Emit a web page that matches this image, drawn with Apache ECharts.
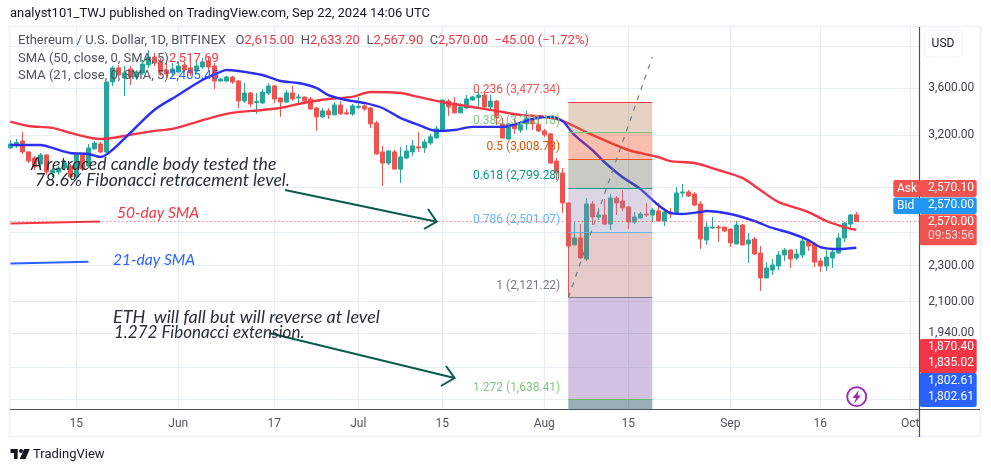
<!DOCTYPE html>
<html><head><meta charset="utf-8">
<style>html,body{margin:0;padding:0;background:#fff}#c{width:991px;height:472px}</style>
<script src="https://cdn.jsdelivr.net/npm/echarts@6/dist/echarts.min.js"></script>
</head><body><div id="c"></div>
<script>
// Daily candles; day number 0 is 4 May 2024, day number 141 is 22 Sep 2024.
const opens=[3096,3112,3151,3065,3018,2973,3041,2906,2913,2943,2958,2877,3041,2958,3088,3127,3065,3658,3790,3695,3780,3704,3742,3819,3896,3848,3770,3742,3751,3819,3790,3761,3799,3857,3809,3667,3667,3704,3667,3486,3557,3473,3469,3557,3621,3513,3477,3557,3513,3522,3504,3425,3349,3400,3366,3451,3383,3374,3430,3443,3425,3298,3065,2980,3065,2935,3018,3065,3104,3096,3135,3175,3240,3486,3460,3383,3425,3495,3518,3539,3434,3486,3290,3167,3290,3240,3290,3332,3282,3232,3208,2995,2906,2694,2423,2466,2338,2687,2600,2613,2554,2728,2707,2667,2567,2593,2620,2613,2640,2574,2633,2620,2763,2770,2756,2687,2453,2529,2535,2535,2522,2429,2548,2429,2459,2374,2229,2274,2297,2362,2392,2344,2362,2447,2429,2326,2297,2344,2374,2466,2554,2615];
const closes=[3127,3139,3065,2995,2950,3041,2913,2928,2943,2980,2877,3041,2935,3096,3135,3065,3658,3790,3723,3742,3704,3751,3828,3896,3838,3751,3733,3780,3809,3770,3742,3809,3848,3799,3667,3685,3704,3658,3486,3557,3460,3482,3566,3621,3504,3477,3557,3504,3522,3486,3417,3349,3400,3366,3451,3374,3374,3443,3438,3417,3290,3049,2980,3072,2935,3026,3072,3112,3096,3143,3184,3249,3495,3434,3383,3434,3504,3522,3539,3434,3486,3340,3175,3290,3249,3282,3340,3290,3232,3200,2980,2906,2694,2416,2466,2344,2687,2600,2613,2554,2728,2694,2660,2567,2600,2620,2613,2647,2574,2633,2620,2763,2770,2742,2680,2459,2535,2535,2529,2510,2435,2548,2423,2453,2368,2229,2286,2303,2362,2392,2338,2368,2447,2416,2320,2297,2350,2380,2466,2561,2613,2570];
const lows=[3088,3096,3049,2980,2928,2950,2891,2877,2891,2928,2870,2870,2921,2943,3084,3057,3049,3621,3695,3530,3630,3676,3723,3790,3809,3714,3695,3714,3742,3751,3714,3742,3780,3770,3593,3658,3658,3639,3425,3469,3434,3374,3460,3539,3469,3349,3469,3486,3451,3469,3408,3232,3340,3332,3362,3366,3366,3357,3417,3400,3257,3045,2812,2965,2928,2834,3011,3034,3065,3057,3119,3171,3232,3357,3378,3379,3417,3486,3425,3430,3400,3282,3171,3163,3208,3216,3240,3240,3224,3184,2976,2855,2627,2121,2420,2341,2326,2548,2580,2548,2516,2613,2640,2522,2554,2590,2600,2567,2570,2541,2593,2613,2735,2735,2673,2398,2423,2522,2441,2503,2410,2426,2420,2315,2362,2157,2226,2246,2274,2326,2286,2332,2344,2386,2291,2263,2268,2286,2371,2441,2529,2567.9];
const highs=[3159,3167,3224,3068,3034,3057,3049,2943,2958,3003,2973,3049,3057,3127,3151,3143,3665,3809,3819,3809,3809,3770,3867,3966,3936,3887,3848,3838,3848,3848,3848,3848,3887,3896,3838,3695,3714,3714,3676,3648,3566,3557,3593,3648,3630,3515,3584,3621,3548,3525,3522,3434,3425,3425,3477,3486,3417,3460,3522,3460,3434,3315,3112,3080,3080,3104,3119,3159,3224,3167,3208,3273,3497,3504,3522,3469,3539,3530,3584,3566,3539,3495,3340,3298,3340,3315,3400,3340,3340,3249,3216,3018,2943,2696,2567,2554,2728,2707,2660,2721,2756,2742,2784,2673,2633,2633,2694,2660,2694,2660,2660,2805,2827,2784,2770,2707,2567,2600,2548,2538,2525,2574,2554,2497,2472,2416,2320,2338,2386,2404,2395,2398,2466,2453,2441,2344,2392,2392,2497,2567,2620,2633.2];
// Moving averages read at selected days: [day number, price]
const sma50=[[0,3309],[3,3273],[7,3257],[10,3216],[15,3167],[17,3175],[20,3200],[24,3232],[27,3249],[30,3290],[34,3349],[37,3383],[42,3408],[45,3425],[48,3460],[53,3504],[57,3522],[60,3566],[65,3557],[68,3522],[72,3477],[77,3434],[81,3400],[85,3366],[89,3349],[92,3315],[97,3200],[103,3080],[108,3026],[110,2995],[114,2980],[118,2928],[122,2870],[125,2784],[128,2701],[133,2633],[136,2574],[139,2535],[141,2517.69]];
const sma21=[[0,3119],[5,3119],[7,3096],[10,3057],[13,3049],[15,3026],[17,3080],[20,3216],[24,3408],[28,3539],[32,3676],[35,3751],[36,3770],[38,3761],[42,3723],[45,3667],[48,3648],[51,3603],[53,3539],[56,3495],[59,3469],[62,3425],[65,3340],[68,3282],[71,3232],[74,3240],[77,3265],[82,3265],[85,3298],[87,3332],[90,3349],[92,3315],[94,3200],[97,3080],[99,2988],[102,2877],[105,2791],[108,2680],[110,2627],[112,2620],[115,2633],[116,2640],[120,2620],[124,2574],[127,2529],[130,2497],[133,2453],[135,2410],[138,2398],[141,2405.45]];
// Fibonacci tool
const fibRatios=['0.236','0.382','0.5','0.618','0.786','1','1.272'];
const fibPrices=[3477.34,3218.18,3008.73,2799.28,2501.07,2121.22,1638.41];
const fibLine=['#f23645','#81c784','#f0521f','#089981','#64b5f6','#787b86','#66bb6a'];
const fibText=['#ef5350','#81c784','#e65100','#089981','#64b5f6','#787b86','#81c784'];
const fibFill=['rgba(178,129,81,.35)','rgba(235,72,24,.35)','rgba(98,106,84,.35)','rgba(155,138,178,.35)','rgba(184,100,100,.35)','rgba(126,78,167,.35)','rgba(0,52,75,.4)'];
const fibStartDay=93, fibEndDay=107, trendTop=3896;
// Axes
const gridPrices=[4000,3600,3200,2800,2500,2300,2100,1940,1780,1640];
const priceLabels=[3600,3200,2300,2100,1940];
const xTickDays=[11,28,44,58,72,89,103,120,135,150];
const xTickNames=['15','Jun','17','Jul','15','Aug','15','Sep','16','Oct'];
const yMin=1600.4,yMax=4203;
const lastPrice=2570;

const FONT='Roboto, "Noto Sans", sans-serif';
const fmt=v=>Number(v).toLocaleString('en-US',{minimumFractionDigits:2,maximumFractionDigits:2});
const candles=opens.map((o,i)=>[i,o,closes[i],lows[i],highs[i]]);
const tickNameByDay={};xTickDays.forEach((d,i)=>tickNameByDay[d]=xTickNames[i]);

const areas=fibFill.map((c,i)=>[
 {coord:[fibStartDay,fibPrices[i]],itemStyle:{color:c}},
 {coord:[fibEndDay,i<fibPrices.length-1?fibPrices[i+1]:yMin]}]);
const fibLines=fibPrices.map((p,i)=>[
 {coord:[fibStartDay,p],lineStyle:{color:fibLine[i],width:1,type:'solid'}},
 {coord:[fibEndDay,p]}]);
const fibMarks=fibPrices.map((p,i)=>({coord:[fibStartDay,p],symbol:'circle',symbolSize:0.01,
 label:{show:true,position:'left',distance:8,offset:[0,-12],formatter:fibRatios[i]+' ('+fmt(p)+')',color:fibText[i],fontSize:12,fontFamily:FONT}}));

const txt=(x,y,t,o)=>({type:'text',x,y,z:50,silent:true,style:Object.assign({text:t,fill:'#131722',fontSize:12,fontFamily:FONT,verticalAlign:'middle'},o||{})});
const rect=(x,y,w,h,c,r)=>({type:'rect',z:40,silent:true,shape:{x,y,width:w,height:h,r:r||0},style:{fill:c}});
const poly=(pts,c,w)=>({type:'polyline',z:30,silent:true,shape:{points:pts},style:{stroke:c,lineWidth:w,fill:null}});
const ital={fontStyle:'italic',fontFamily:'Lato, "Open Sans", sans-serif'};
const leg={fontSize:13,fontFamily:FONT,fill:'#50535e'};

const graphics=[
 {type:'rect',z:1,silent:true,shape:{x:9.5,y:26.5,width:971,height:410},style:{fill:null,stroke:'#f0f3fa',lineWidth:2}},
 poly([[10,409.5],[980,409.5]],'#50535e',1.2),
 poly([[919.5,27],[919.5,437]],'#50535e',1.2),
 txt(10,14,'analyst101_TWJ published on TradingView.com, Sep 22, 2024 14:06 UTC',{fontSize:13,fontFamily:FONT}),
 txt(18,41,'{g|Ethereum / U.S. Dollar, 1D, BITFINEX   O}{r|2,615.00}{g|  H}{r|2,633.20}{g|  L}{r|2,567.90}{g|  C}{r|2,570.00}{r|  \u221245.00 (\u22121.72%)}',{rich:{g:{fontSize:13,fontFamily:FONT,fill:'#50535e'},r:{fontSize:13,fontFamily:FONT,fill:'#f23645'}}}),
 txt(18,59,'SMA (50, close, 0, SMA, 5)',leg),
 txt(169,59,'2,517.69',Object.assign({},leg,{fill:'#f23645'})),
 txt(18,76,'SMA (21, close, 0, SMA, 5)',leg),
 txt(169,76,'2,405.45',Object.assign({},leg,{fill:'#2962ff'})),
 txt(31,164,'A retraced candle body tested the',Object.assign({},ital,{fontSize:17.6,fill:'#2a2e39'})),
 txt(35,180,'78.6% Fibonacci retracement level.',Object.assign({},ital,{fontSize:17.6,fill:'#2a2e39'})),
 txt(117,213,'50-day SMA',Object.assign({},ital,{fontSize:15.6,fill:'#f23645'})),
 txt(113,260,'21-day SMA',Object.assign({},ital,{fontSize:15.6,fill:'#2962ff'})),
 txt(113,317,'ETH  will fall but will reverse at level',Object.assign({},ital,{fontSize:18,fill:'#2a2e39'})),
 txt(114,333,'1.272 Fibonacci extension.',Object.assign({},ital,{fontSize:17,fill:'#2a2e39'})),
 poly([[10.5,223.5],[100,221.5]],'#f23645',2),
 poly([[10.5,263.5],[88.5,261.8]],'#2962ff',2),
 poly([[285,190],[436.7,221.7]],'#0b5a4e',2),
 poly([[428,209],[436.7,221.7],[424,229]],'#0b5a4e',2),
 poly([[269,333],[454.5,378]],'#0b5a4e',2),
 poly([[446,366],[454.5,378],[441,386]],'#0b5a4e',2),
 {type:'rect',z:30,silent:true,shape:{x:925,y:30,width:37,height:27,r:4},style:{fill:'#fff',stroke:'#eceff4',lineWidth:1}},
 txt(943,43.5,'USD',{fontSize:12,textAlign:'center'}),
 rect(893.3,180,27,17,'#ef5350',2),rect(919.7,180,57,17,'#ef5350',2),
 rect(893.3,197.5,27,16.5,'#2196f3',2),rect(919.7,197.5,57,16.5,'#2196f3',2),
 rect(919.7,214.3,57,31,'#ef5350',2),
 rect(919.7,339,57,34,'#f23645',2),rect(919.7,373,57,34,'#2962ff',2),
 txt(897,188.5,'Ask',{fill:'#fff'}),txt(897,205.5,'Bid',{fill:'#fff'}),
 txt(928,188,'2,570.10',{fill:'#fff'}),txt(928,205,'2,570.00',{fill:'#fff'}),
 txt(928,221.7,'2,570.00',{fill:'#fff'}),txt(928,235.7,'09:53:56',{fill:'#fbd5d5'}),
 txt(928,346.7,'1,870.40',{fill:'#fff'}),txt(928,363.3,'1,835.02',{fill:'#fff'}),
 txt(928,380.7,'1,802.61',{fill:'#fff'}),txt(928,397.3,'1,802.61',{fill:'#fff'}),
 {type:'circle',z:30,silent:true,shape:{cx:856.7,cy:396.7,r:9.5},style:{fill:'#fff',stroke:'#9c27b0',lineWidth:1.8}},
 {type:'polygon',z:31,silent:true,shape:{points:[[859,390],[852.5,398],[856,398],[854,403.5],[861,395.5],[857.5,395.5]]},style:{fill:'#9c27b0'}},
 rect(10.5,449,7,4,'#131722'),rect(14,449,3.6,10,'#131722'),
 {type:'circle',z:40,silent:true,shape:{cx:21,cy:451,r:2},style:{fill:'#131722'}},
 {type:'polygon',z:40,silent:true,shape:{points:[[24,449],[29.8,449],[25.5,459],[19.8,459]]},style:{fill:'#131722'}},
 txt(33,454.5,'TradingView',{fontSize:13,fontFamily:FONT})
];

const chart=echarts.init(document.getElementById('c'),null,{renderer:'canvas'});
chart.setOption({
 animation:false,
 grid:{left:10.3,top:27,width:909,height:382,containLabel:false},
 xAxis:{type:'value',min:0,max:151.5,scale:true,
  axisLine:{show:false},
  axisTick:{show:false,customValues:xTickDays},
  splitLine:{show:true,lineStyle:{color:'#e6edf3',width:1.2}},
  axisLabel:{customValues:xTickDays,formatter:v=>tickNameByDay[v]||'',color:'#50535e',fontSize:12,fontFamily:FONT,margin:9,hideOverlap:false,showMinLabel:true,showMaxLabel:true}},
 yAxis:{type:'log',min:yMin,max:yMax,position:'right',
  axisLine:{show:false},
  axisTick:{show:false,customValues:gridPrices},
  splitLine:{show:true,lineStyle:{color:'#e6edf3',width:1.2}},
  minorSplitLine:{show:false},
  axisLabel:{customValues:priceLabels,formatter:v=>fmt(v),color:'#40434e',fontSize:12,fontFamily:FONT,margin:9,padding:[0,0,2,0]}},
 series:[
  {type:'candlestick',name:'ETHUSD',z:2,barWidth:5,data:candles,
   itemStyle:{color:'#26a69a',color0:'#ef5350',borderColor:'#26a69a',borderColor0:'#ef5350',borderWidth:1},
   markLine:{silent:true,symbol:'none',label:{show:false},lineStyle:{color:'#ef5350',width:1,type:[1,3]},data:[{yAxis:lastPrice}]}},
  {type:'line',name:'SMA 50',z:3,data:sma50,smooth:0.3,showSymbol:false,lineStyle:{color:'#f23645',width:2.4},itemStyle:{color:'#f23645'}},
  {type:'line',name:'SMA 21',z:3,data:sma21,smooth:0.3,showSymbol:false,lineStyle:{color:'#2e2ef2',width:2.4},itemStyle:{color:'#2e2ef2'}},
  {type:'line',name:'Fib',z:5,data:[[fibStartDay,fibPrices[5]],[fibEndDay,trendTop]],showSymbol:false,
   lineStyle:{color:'#787b86',width:1.2,type:[5,6]},itemStyle:{color:'#787b86'},
   markArea:{silent:true,z:4,data:areas},
   markLine:{silent:true,z:5,symbol:'none',label:{show:false},data:fibLines},
   markPoint:{silent:true,z:6,data:fibMarks}}
 ],
 graphic:graphics
});
</script></body></html>
